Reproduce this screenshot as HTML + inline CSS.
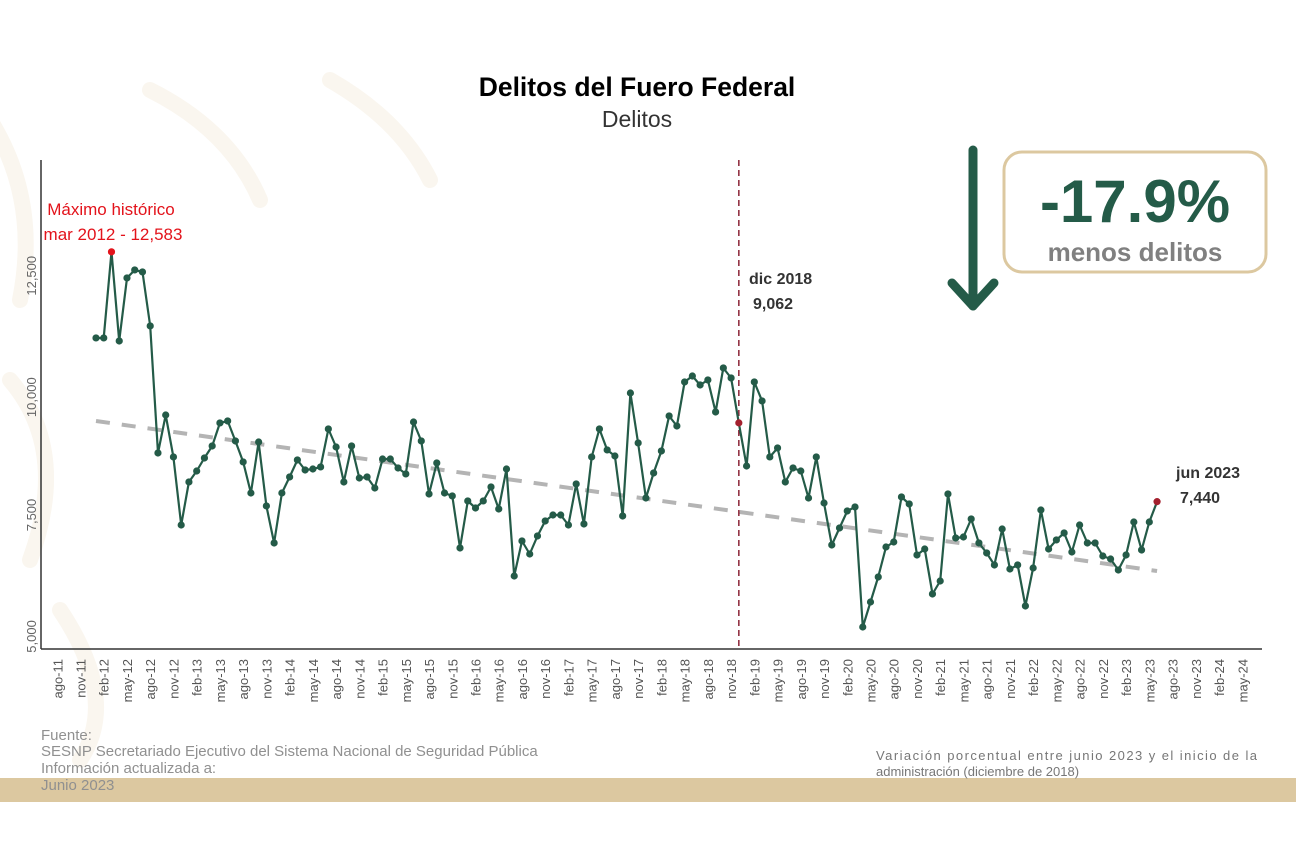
<!DOCTYPE html>
<html><head><meta charset="utf-8">
<style>
html,body{margin:0;padding:0;background:#fff;}
body{width:1296px;height:863px;overflow:hidden;font-family:"Liberation Sans",sans-serif;}
</style></head>
<body>
<svg id="chart" width="1296" height="863" viewBox="0 0 1296 863" xmlns="http://www.w3.org/2000/svg" font-family="Liberation Sans, sans-serif">
  <rect x="0" y="0" width="1296" height="863" fill="#fff"/>
  <g fill="none" stroke="#faf6ef" stroke-width="16" stroke-linecap="round">
    <path d="M-10 120 Q40 200 20 300"/>
    <path d="M10 380 Q70 450 30 560"/>
    <path d="M60 610 Q120 700 80 760"/>
    <path d="M150 90 Q230 130 260 200"/>
    <path d="M330 80 Q400 120 430 180"/>
  </g>
  <rect x="0" y="778" width="1296" height="24" fill="#dcc8a0"/>
  <text x="637" y="96" text-anchor="middle" font-size="26.5" font-weight="bold" fill="#000">Delitos del Fuero Federal</text>
  <text x="637" y="127" text-anchor="middle" font-size="23" fill="#333">Delitos</text>

  <line x1="41" y1="160" x2="41" y2="649" stroke="#333" stroke-width="1.5"/>
  <line x1="41" y1="649" x2="1262" y2="649" stroke="#333" stroke-width="1.5"/>
  <g id="yticks"></g>
  <g id="xticks"></g>
  <g id="trend"></g>
  <g id="series"></g>
  <g id="marks"></g>

  <text x="111" y="215" text-anchor="middle" font-size="17" fill="#e3131b">Máximo histórico</text>
  <text x="113" y="240" text-anchor="middle" font-size="17" fill="#e3131b">mar 2012 - 12,583</text>
  <text x="749" y="284" font-size="16" font-weight="bold" fill="#333">dic 2018</text>
  <text x="753" y="309" font-size="16" font-weight="bold" fill="#333">9,062</text>
  <text x="1176" y="478" font-size="16" font-weight="bold" fill="#333">jun 2023</text>
  <text x="1180" y="503" font-size="16" font-weight="bold" fill="#333">7,440</text>

  <g stroke="#245b48" stroke-width="9" stroke-linecap="round" stroke-linejoin="round" fill="none">
    <line x1="973" y1="150" x2="973" y2="306"/>
    <polyline points="952,283 973,306 994,283"/>
  </g>
  <rect x="1004" y="152" width="262" height="120" rx="18" fill="#fff" stroke="#dcc8a0" stroke-width="3"/>
  <text x="1135" y="222" text-anchor="middle" font-size="60" font-weight="bold" fill="#245b48">-17.9%</text>
  <text x="1135" y="261" text-anchor="middle" font-size="26" font-weight="bold" fill="#808080">menos delitos</text>

  <g font-size="15" fill="#909090">
    <text x="41" y="740">Fuente:</text>
    <text x="41" y="756">SESNP Secretariado Ejecutivo del Sistema Nacional de Seguridad Pública</text>
    <text x="41" y="773">Información actualizada a:</text>
    <text x="41" y="790">Junio 2023</text>
  </g>
  <g font-size="13" fill="#777">
    <text x="876" y="760" textLength="381" lengthAdjust="spacing">Variación porcentual entre junio 2023 y el inicio de la</text>
    <text x="876" y="776">administración (diciembre de 2018)</text>
  </g>
</svg>
<script>
// Monthly values Jan 2012 .. Jun 2023
const values = [10810,10810,12583,10748,12045,12210,12169,11057,8442,9224,8360,6959,
7845,8071,8339,8586,9060,9101,8689,8257,7618,8668,7351,6589,
7618,7948,8298,8092,8112,8154,8936,8565,7845,8586,7927,7948,
7721,8318,8318,8133,8010,9080,8689,7598,8236,7618,7557,6486,
7454,7309,7454,7742,7289,8112,5909,6630,6362,6733,7042,7165,
7165,6959,7804,6980,8360,8936,8504,8380,7145,9677,8648,7515,
8030,8483,9204,8998,9904,10027,9842,9945,9286,10192,9986,9062,
8174,9904,9513,8360,8545,7845,8133,8071,7515,8360,7412,6548,
6898,7248,7330,4859,5374,5889,6506,6609,7536,7392,6342,6465,
5539,5806,7598,6692,6712,7083,6589,6383,6136,6877,6053,6136,
5292,6074,7268,6465,6651,6795,6403,6959,6589,6589,6321,6259,
6033,6342,7021,6445,7021,7440];
const yTickValues = [5000,7500,10000,12500];
const yTickLabels = ["5,000","7,500","10,000","12,500"];
const monthNames = ["ene","feb","mar","abr","may","jun","jul","ago","sep","oct","nov","dic"];
const trendValues = [9101,6012];
const highlightIdx = [2,83,137];

const NS="http://www.w3.org/2000/svg";
function xPos(i){return 96+i*7.745;}   // i = months from Jan 2012
function yPos(v){return 863-v*0.04857;}
function mk(tag,attrs,parent){const e=document.createElementNS(NS,tag);for(const k in attrs)e.setAttribute(k,attrs[k]);parent.appendChild(e);return e;}

const yt=document.getElementById('yticks');
yTickValues.forEach((v,k)=>{
  const t=mk('text',{x:0,y:0,transform:`translate(36,${yPos(v)}) rotate(-90)`,'text-anchor':'end','font-size':'13',fill:'#666'},yt);
  
  
  t.textContent=yTickLabels[k];
});

const xt=document.getElementById('xticks');
for(let i=-5;i<=148;i+=3){
  const m=((i%12)+12)%12, yr=2012+Math.floor(i/12);
  const lbl=monthNames[m]+'-'+String(yr).slice(2);
  const t=mk('text',{x:0,y:0,transform:`translate(${xPos(i)+5},659) rotate(-90)`,'text-anchor':'end','font-size':'13',fill:'#555'},xt);
  
  
  t.textContent=lbl;
}

const tr=document.getElementById('trend');
const tl=mk('line',{x1:xPos(0),y1:yPos(trendValues[0]),x2:xPos(values.length-1),y2:yPos(trendValues[1]),stroke:'#b4b4b4','stroke-width':4,'stroke-dasharray':'14,12'},tr);



const vl=mk('line',{x1:xPos(83),y1:160,x2:xPos(83),y2:649,stroke:'#8b2335','stroke-width':1.5,'stroke-dasharray':'6,4'},tr);



const sg=document.getElementById('series');
const pts=values.map((v,i)=>xPos(i).toFixed(1)+','+yPos(v).toFixed(1)).join(' ');
const pl=mk('polyline',{points:pts,fill:'none',stroke:'#245b48','stroke-width':2.2,'stroke-linejoin':'round'},sg);



const mg=document.getElementById('marks');
values.forEach((v,i)=>{
  let col='#245b48';
  if(i===highlightIdx[0])col='#e3131b';
  else if(i===highlightIdx[1]||i===highlightIdx[2])col='#a3202e';
  const c=mk('circle',{cx:xPos(i),cy:yPos(v),r:3.6,fill:col},mg);
  
  
});
</script>
</body></html>
